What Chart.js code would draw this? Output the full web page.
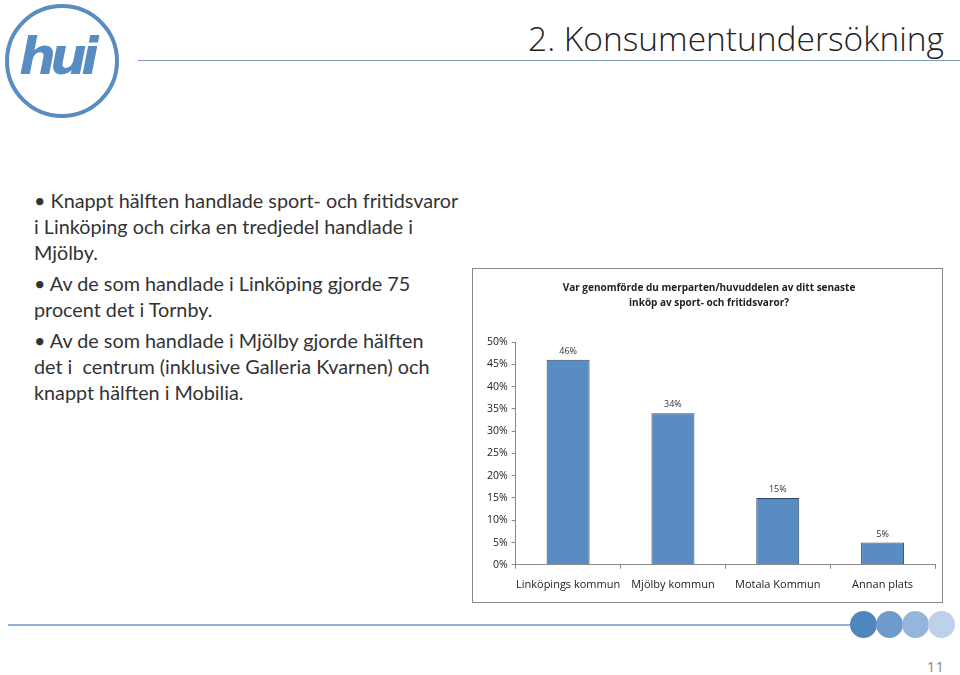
<!DOCTYPE html>
<html>
<head>
<meta charset="utf-8">
<script src="https://cdn.jsdelivr.net/npm/chart.js@4/dist/chart.umd.min.js"></script>
<style>
  body { margin: 0; width: 960px; height: 675px; position: relative; background: #fff; overflow: hidden; font-family: Lato, "Open Sans", sans-serif; }
  .logo { position: absolute; left: 5px; top: 4px; width: 114px; height: 114px; border: 4px solid #5a8cc4; border-radius: 50%; box-sizing: border-box; }
  .logo span { position: absolute; left: 10px; top: 18px; font: italic bold 52px "DejaVu Sans", sans-serif; color: #5a8cc4; letter-spacing: -6px; }
  .topline { position: absolute; left: 138px; top: 60px; width: 822px; height: 1px; background: #7a9cc0; }
  h1 { position: absolute; right: 16px; top: 15px; margin: 0; font: 300 33.5px "Open Sans", sans-serif; color: #222; }
  .bullets { position: absolute; left: 34px; top: 187px; font: 19.8px Lato, sans-serif; color: #333; line-height: 26px; white-space: nowrap; }
  .bullets p { margin: 0 0 5px 0; }
  #box { position: absolute; left: 472px; top: 268px; width: 471px; height: 335px; border: 1px solid #888; box-sizing: border-box; }
  .bottomline { position: absolute; left: 8px; top: 624px; width: 852px; height: 2px; background: #8fb0d0; }
  .dot { position: absolute; top: 611px; width: 27px; height: 27px; border-radius: 50%; }
  .pnum { position: absolute; right: 16px; top: 656px; font: 15px "Open Sans", sans-serif; color: #888; }
</style>
</head>
<body>
<div class="logo"><span>hui</span></div>
<div class="topline"></div>
<h1>2. Konsumentundersökning</h1>
<div class="bullets">
  <p>• Knappt hälften handlade sport- och fritidsvaror<br>i Linköping och cirka en tredjedel handlade i<br>Mjölby.</p>
  <p>• Av de som handlade i Linköping gjorde 75<br>procent det i Tornby.</p>
  <p>• Av de som handlade i Mjölby gjorde hälften<br>det i&nbsp; centrum (inklusive Galleria Kvarnen) och<br>knappt hälften i Mobilia.</p>
</div>
<div id="box"><canvas id="c" width="469" height="333"></canvas></div>
<div class="bottomline"></div>
<div class="dot" style="left:850px;background:#4f86c0"></div>
<div class="dot" style="left:876px;background:#6f9bcc"></div>
<div class="dot" style="left:902px;background:#95b5db"></div>
<div class="dot" style="left:928px;background:#bdd2ea"></div>
<div class="pnum">11</div>
<script>
const categories = ['Linköpings kommun', 'Mjölby kommun', 'Motala Kommun', 'Annan plats'];
const shares = [46, 34, 15, 5];
const yTicks = [0, 5, 10, 15, 20, 25, 30, 35, 40, 45, 50];

const valueLabels = {
  id: 'valueLabels',
  afterDatasetsDraw(chart) {
    const ctx = chart.ctx;
    const meta = chart.getDatasetMeta(0);
    ctx.save();
    ctx.font = '9px "Open Sans", sans-serif';
    ctx.fillStyle = '#333';
    ctx.textAlign = 'center';
    ctx.textBaseline = 'bottom';
    meta.data.forEach((bar, i) => {
      ctx.fillText(shares[i] + '%', bar.x, bar.y - 4);
    });
    ctx.restore();
  }
};

new Chart(document.getElementById('c'), {
  type: 'bar',
  data: {
    labels: categories,
    datasets: [{
      data: shares,
      backgroundColor: '#588cc3',
      borderColor: '#2e4a68',
      borderWidth: 1,
      barPercentage: 0.41,
      categoryPercentage: 1
    }]
  },
  options: {
    responsive: false,
    animation: false,
    devicePixelRatio: 1,
    layout: { padding: { left: 10, right: 7, top: 0, bottom: 2 } },
    plugins: {
      legend: { display: false },
      tooltip: { enabled: false },
      title: {
        display: true,
        text: ['Var genomförde du merparten/huvuddelen av ditt senaste', 'inköp av sport- och fritidsvaror?'],
        color: '#222',
        font: { family: '"Open Sans", sans-serif', size: 10, weight: 'bold', lineHeight: 1.5 },
        padding: { top: 12, bottom: 31 }
      }
    },
    scales: {
      x: {
        offset: true,
        grid: { display: true, offset: true, drawOnChartArea: false, drawTicks: true, tickLength: 4, color: '#888' },
        border: { color: '#888' },
        ticks: { color: '#222', font: { family: '"Open Sans", sans-serif', size: 11 }, padding: 9, maxRotation: 0, autoSkip: false }
      },
      y: {
        min: 0,
        max: 50,
        afterBuildTicks: axis => { axis.ticks = yTicks.map(v => ({ value: v })); },
        grid: { display: true, drawOnChartArea: false, drawTicks: true, tickLength: 4, color: '#888' },
        border: { color: '#888' },
        ticks: { color: '#222', font: { family: '"Open Sans", sans-serif', size: 10.5 }, padding: 4, autoSkip: false, callback: v => v + '%' }
      }
    }
  },
  plugins: [valueLabels]
});
</script>
</body>
</html>
